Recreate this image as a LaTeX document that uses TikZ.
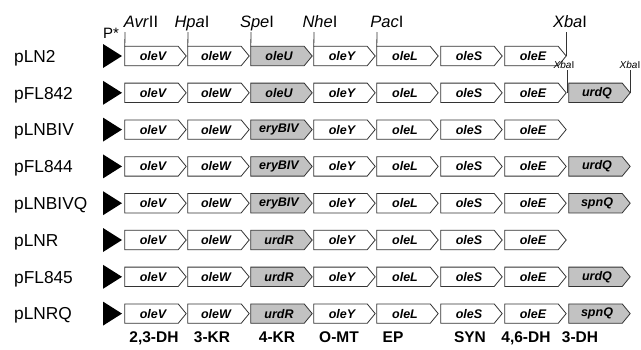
\documentclass[tikz,border=0pt]{standalone}
\usepackage{fontspec}
\setmainfont{Liberation Sans}
\begin{document}
\begin{tikzpicture}[x=1pt,y=-1pt,
  genebody/.style={inner sep=0pt, minimum width=53pt, minimum height=19pt},
  genebox/.style={draw=black!80, line width=0.8pt, line join=miter},
  genelabel/.style={inner sep=0pt, font=\fontsize{12.5}{14}\selectfont\bfseries\itshape},
  plname/.style={anchor=base west, inner sep=0pt, font=\fontsize{17.3}{19}\selectfont},
  sitename/.style={anchor=base, inner sep=0pt, font=\fontsize{16.5}{18}\selectfont},
  smallsite/.style={anchor=base, inner sep=0pt, font=\fontsize{10}{11}\selectfont},
  siteline/.style={draw=black!80, line width=0.8pt},
  activity/.style={anchor=base, inner sep=0pt, font=\fontsize{15.5}{17}\selectfont\bfseries},
  promoter/.style={fill=black}]
\useasboundingbox (0,0) rectangle (641,349);
\definecolor{shade}{HTML}{C2C2C2}

% one gene: name, left edge, axis y, fill, label
\newcommand\genearrow[5]{%
  \node[genebody] (#1) at ({#2+26.5},#3) {};
  \filldraw[genebox,fill=#4] (#1.south west) -- (#1.south east) -- ([xshift=8pt]#1.east)
    -- (#1.north east) -- (#1.north west) -- cycle;
  \node[genelabel] (#1-t) at ([xshift=1.5pt]#1.center) {#5};
}
% one plasmid: row key, axis y, plasmid name, third gene, its fill
\newcommand\plrow[5]{%
  \node[plname] (name#1) at (14,{#2+6.3}) {#3};
  \fill[promoter] (103,{#2-12}) -- (122,#2) -- (103,{#2+12}) -- cycle;
  \genearrow{g#1a}{125}{#2}{white}{oleV}
  \genearrow{g#1b}{188}{#2}{white}{oleW}
  \genearrow{g#1c}{251}{#2}{#5}{#4}
  \genearrow{g#1d}{314}{#2}{white}{oleY}
  \genearrow{g#1e}{377}{#2}{white}{oleL}
  \genearrow{g#1f}{441}{#2}{white}{oleS}
  \genearrow{g#1g}{505}{#2}{white}{oleE}
}

\plrow{A}{56}{pLN2}{oleU}{shade}
\plrow{B}{92.8}{pFL842}{oleU}{shade}
\plrow{C}{129.6}{pLNBIV}{eryBIV}{shade}
\plrow{D}{166.4}{pFL844}{eryBIV}{shade}
\plrow{E}{203.2}{pLNBIVQ}{eryBIV}{shade}
\plrow{F}{240}{pLNR}{urdR}{shade}
\plrow{G}{276.8}{pFL845}{urdR}{shade}
\plrow{H}{313.6}{pLNRQ}{urdR}{shade}

% extra 3-DH genes
\genearrow{gBh}{569}{92.8}{shade}{urdQ}
\genearrow{gDh}{569}{166.4}{shade}{urdQ}
\genearrow{gEh}{569}{203.2}{shade}{spnQ}
\genearrow{gGh}{569}{276.8}{shade}{urdQ}
\genearrow{gHh}{569}{313.6}{shade}{spnQ}

% promoter
\node[sitename, font=\fontsize{15}{17}\selectfont] (pstar) at (111,38) {P*};

% restriction sites on pLN2
\node[sitename] (avr) at (141,27) {\textit{Avr}II};
\node[sitename] (hpa) at (192,27) {\textit{Hpa}I};
\node[sitename] (spe) at (257,27) {\textit{Spe}I};
\node[sitename] (nhe) at (320,27) {\textit{Nhe}I};
\node[sitename] (pac) at (387,27) {\textit{Pac}I};
\node[sitename] (xba) at (570,27) {\textit{Xba}I};
\coordinate (avrL) at (125,32);
\coordinate (hpaL) at (188,32);
\coordinate (speL) at (251,32);
\coordinate (nheL) at (314,32);
\coordinate (pacL) at (377,32);
\coordinate (xbaL) at (566,32);
\draw[siteline] (avrL) -- (gAa.north west);
\draw[siteline] (hpaL) -- (gAb.north west);
\draw[siteline] (speL) -- (gAc.north west);
\draw[siteline] (nheL) -- (gAd.north west);
\draw[siteline] (pacL) -- (gAe.north west);
\draw[siteline] (xbaL) -- (xbaL |- gAg.east);

% XbaI sites flanking urdQ in pFL842
\node[smallsite] (xbaB1) at (564,68) {\textit{Xba}I};
\node[smallsite] (xbaB2) at (630,68) {\textit{Xba}I};
\coordinate (xbaB1L) at (567,70);
\coordinate (xbaB2L) at (630,70);
\draw[siteline] (xbaB1L) -- (xbaB1L |- gBg.east);
\draw[siteline] (xbaB2L) -- (xbaB2L |- gBh.east);

% enzyme activities
\node[activity] (act1) at (154,342) {2,3-DH};
\node[activity] (act2) at (212,342) {3-KR};
\node[activity] (act3) at (277,342) {4-KR};
\node[activity] (act4) at (339,342) {O-MT};
\node[activity] (act5) at (393,342) {EP};
\node[activity] (act6) at (470,342) {SYN};
\node[activity] (act7) at (526,342) {4,6-DH};
\node[activity] (act8) at (580,342) {3-DH};
\end{tikzpicture}
\end{document}
